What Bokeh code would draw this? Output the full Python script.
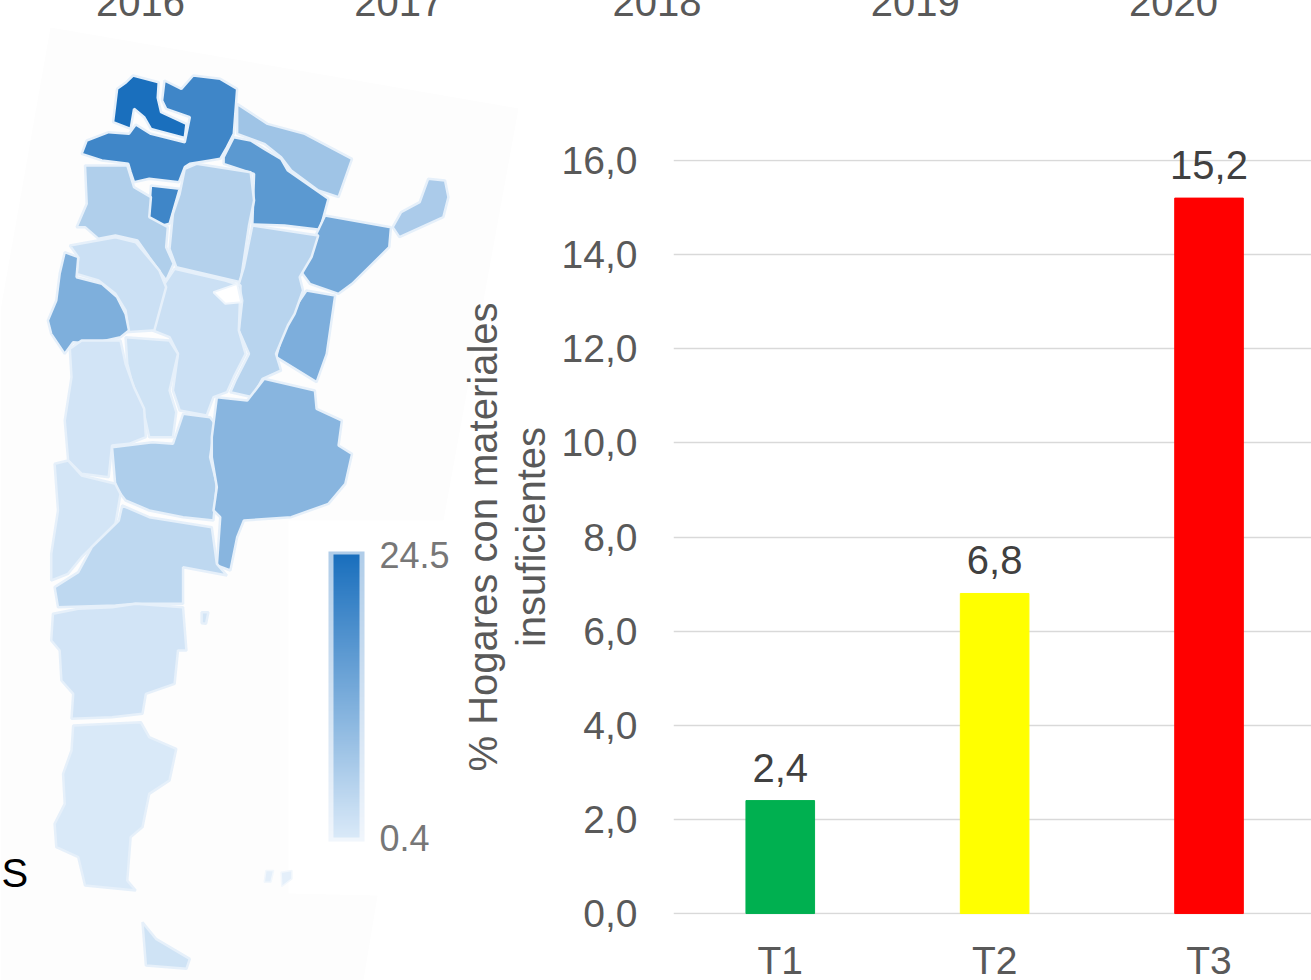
from bokeh.plotting import figure
from bokeh.models import (ColumnDataSource, Range1d, FactorRange, FixedTicker, LinearColorMapper, ColorBar)
from bokeh.core.properties import value
from bokeh.embed import file_html
from bokeh.resources import INLINE

FONT = "Liberation Sans"
GRAY = "#595959"

# ---------- data ----------
years = ["2016", "2017", "2018", "2019", "2020"]
periods = ["T1", "T2", "T3"]
period_pos = [1, 2, 3]
pct_values = [2.4, 6.8, 15.2]
pct_labels = ["2,4", "6,8", "15,2"]
bar_colors = ["#00b050", "#ffff00", "#ff0000"]
y_ticks = [0, 2, 4, 6, 8, 10, 12, 14, 16]
y_tick_labels = ["0,0", "2,0", "4,0", "6,0", "8,0", "10,0", "12,0", "14,0", "16,0"]
map_low, map_high = 0.4, 24.5

# outlines in three horizontal bands
SX = 2.958
A, B, C = 0, 320, 650
def z(y0, pts):
    return [(x / SX, y0 + y / 3) for x, y in pts]

provinces = {
 "Jujuy": (24.5, z(A, [(345,265),(372,245),(392,225),(468,245),(465,292),(475,335),(550,370),(545,412),(445,385),(425,350),(395,325),(385,385),(333,365)])),
 "Salta": (19.8, z(A, [(485,240),(535,265),(570,225),(650,235),(700,265),(690,400),(670,440),(650,475),(620,480),(560,490),(545,500),(528,545),(440,535),(395,545),(385,515),(378,490),(300,480),(240,460),(255,420),(320,395),(380,400),(400,372),(445,400),(545,425),(560,350),(490,325),(478,300)])),
 "Tucuman": (19.8, z(A, [(445,555),(530,565),(500,670),(480,675),(438,655)])),
 "Formosa": (7.7, z(A, [(700,310),(790,370),(900,400),(1040,475),(1000,590),(940,570),(860,510),(830,470),(780,430),(700,400)])),
 "Chaco": (16.3, z(A, [(660,470),(690,410),(740,420),(780,445),(830,475),(850,510),(900,545),(970,595),(945,688),(840,675),(745,672),(750,520),(660,490)])),
 "Santiago": (5.2, z(A, [(545,505),(580,490),(740,515),(750,600),(735,675),(710,845),(520,800),(500,745),(510,640),(530,580)])),
 "Catamarca": (5.6, z(A, [(250,495),(375,495),(395,560),(445,590),(440,650),(495,680),(490,740),(512,790),(490,840),(440,770),(405,720),(340,705),(290,715),(250,680),(225,680),(255,610)])),
 "Misiones": (6.3, z(A, [(1265,535),(1315,540),(1325,590),(1310,650),(1180,710),(1160,680),(1185,635),(1240,605)])),
 "Corrientes": (13.1, z(A, [(960,645),(1155,680),(1150,740),(1040,850),(1000,880),(915,850),(890,815),(905,780),(925,720)])),
 "Entre Rios": (12.0, z(A, [(905,870),(990,885),(975,990)]) + z(B, [(965,100),(935,185),(815,110),(845,0)])),
 "Santa Fe": (4.6, z(A, [(745,675),(940,705),(920,770),(885,830),(895,870),(870,940),(850,975)]) + z(B, [(815,100),(830,150),(775,175),(745,230),(680,215),(695,180),(735,100),(705,30)]) + z(A, [(715,900),(705,850),(720,800)])),
 "Cordoba": (2.2, z(A, [(515,805),(665,840),(710,855),(705,990)]) + z(B, [(725,100),(690,170),(670,215),(630,230),(610,285),(530,270),(510,210),(525,100),(500,50),(450,30),(460,0)]) + z(A, [(465,880)])),
 "La Rioja": (2.2, z(A, [(205,735),(340,710),(400,725),(470,810),(490,860),(455,990)]) + z(B, [(450,30),(370,35)]) + z(A, [(375,965),(370,930),(340,880),(290,840),(225,820),(230,770)])),
 "San Juan": (11.9, z(A, [(190,755),(230,770),(225,830),(300,850),(345,890),(370,940),(380,990)]) + z(B, [(355,50),(270,70),(215,65),(190,100),(150,40),(140,0)]) + z(A, [(165,900),(175,820)])),
 "San Luis": (1.7, z(B, [(370,50),(500,60),(525,100),(500,210),(520,275),(510,350),(440,350),(420,260),(390,190),(375,130)])),
 "Mendoza": (1.4, z(B, [(205,85),(240,60),(355,60),(370,130),(395,200),(425,265),(430,350),(380,370),(330,375),(320,470),(240,460),(200,420),(190,300),(210,170)])),
 "La Pampa": (5.8, z(B, [(540,280),(620,290),(635,310),(620,410),(640,490),(630,600),(540,590),(440,570),(370,540),(340,500),(330,380),(450,365),(510,370)])),
 "Buenos Aires": (10.6, z(B, [(640,230),(730,240),(780,175),(930,210),(935,265),(1010,300),(1000,375),(1040,400),(1020,490),(970,550),(860,590),(720,600),(700,650),(680,750),(640,735),(650,590),(630,570),(640,500),(625,410),(625,350)])),
 "Neuquen": (1.2, z(B, [(160,430),(200,420),(240,465),(340,490),(355,520),(340,610),(285,665),(240,710),(200,760),(150,780),(150,700),(170,570)])),
 "Rio Negro": (3.8, z(B, [(160,800),(230,755),(270,680),(350,600),(360,555),(440,590),(625,620),(640,730),(670,765),(540,740),(540,850),(400,850),(340,855),(170,860)])),
 "Chubut": (1.4, z(B, [(155,880),(230,865),(330,860),(400,850),(540,860),(550,990)]) + z(C, [(525,0),(515,100),(430,130),(420,190),(330,200),(210,205),(215,130),(180,90),(175,0)]) + z(B, [(150,960)])),
 "Valdes": (1.2, z(B, [(595,875),(615,875),(608,910),(595,908)])),
 "Santa Cruz": (0.4, z(C, [(215,225),(415,215),(440,260),(520,295),(500,390),(440,430),(420,530),(385,560),(375,690),(400,720),(250,705),(230,620),(165,590),(160,520),(190,460),(185,370),(210,300)])),
 "Tierra del Fuego": (1.7, z(C, [(420,815),(460,865),(560,925),(550,955),(430,945)])),
}
islands = [z(C, [(785,660),(808,660),(800,695),(780,695)]), z(C, [(830,665),(862,660),(862,685),(832,708)])]
lake = z(A, [(630,875),(700,850),(712,905),(665,910)])
panel = [(50,27),(518,108),(443,520),(288,520),(288,893),(377,895),(363,980),(0,980),(0,310)]

# ---------- palette ----------
def ramp(c0, c1, n=256):
    a = [int(c0[i:i+2], 16) for i in (1, 3, 5)]
    b = [int(c1[i:i+2], 16) for i in (1, 3, 5)]
    return ["#%02x%02x%02x" % tuple(round(a[k] + (b[k]-a[k]) * t / (n-1)) for k in range(3)) for t in range(n)]

palette = ramp("#d9e9f8", "#1a6fbd")
halo_palette = ramp("#f1f6fc", "#b0cde9")
mapper = LinearColorMapper(palette=palette, low=map_low, high=map_high)
halo_mapper = LinearColorMapper(palette=halo_palette, low=map_low, high=map_high)

def place(left, top):
    return {"position": "absolute", "left": f"{left}px", "top": f"{top}px"}

# ---------- map ----------
m = figure(width=530, height=980, x_range=Range1d(0, 530), y_range=Range1d(980, 0),
           output_backend="svg", toolbar_location=None, min_border=0, outline_line_color=None,
           x_axis_type=None, y_axis_type=None, styles=place(0, 0))
m.grid.visible = False
m.patch([p[0] for p in panel], [p[1] for p in panel], fill_color="#fdfdfd", line_color=None)
names = list(provinces)
src = ColumnDataSource(dict(
    name=names,
    value=[provinces[n][0] for n in names],
    xs=[[p[0] for p in provinces[n][1]] for n in names],
    ys=[[p[1] for p in provinces[n][1]] for n in names],
))
m.patches("xs", "ys", source=src, fill_color={"field": "value", "transform": mapper},
          line_color="#e6f0fa", line_width=2.5)
m.patches([[p[0] for p in r] for r in islands], [[p[1] for p in r] for r in islands],
          fill_color="#e4effa", line_color="#f2f7fc", line_width=1.5)
m.patch([p[0] for p in lake], [p[1] for p in lake], fill_color="#ffffff", line_color="#eef5fc", line_width=2)
m.text(x=[1], y=[872], text=["S"], text_font=value(FONT), text_font_size="40px", text_color="#000000",
       text_baseline="alphabetic")

halo = ColorBar(color_mapper=halo_mapper, ticker=FixedTicker(ticks=[]), width=36, height=290,
                location=(328, 139), padding=0, margin=0, background_fill_alpha=0, border_line_color=None,
                major_tick_line_color=None, bar_line_color=None, major_label_text_font_size="0px")
cb = ColorBar(color_mapper=mapper, ticker=FixedTicker(ticks=[map_low, map_high]), width=26, height=283,
              location=(333, 143), padding=0, margin=0, background_fill_alpha=0, border_line_color=None,
              major_tick_line_color=None, bar_line_color=None, label_standoff=20,
              major_label_overrides={map_low: "0.4", map_high: "24.5"},
              major_label_text_font=FONT, major_label_text_font_size="36px", major_label_text_color="#777777")
m.add_layout(halo, "center")
m.add_layout(cb, "center")

# ---------- bars ----------
X_RANGE = (0.502, 3.478)
b = figure(width=871, height=985, x_range=Range1d(*X_RANGE), y_range=Range1d(-0.02, 16.02),
           output_backend="svg", toolbar_location=None, min_border_left=233, min_border_right=0,
           min_border_top=159, min_border_bottom=71, outline_line_color=None,
           background_fill_alpha=0, border_fill_alpha=0, styles=place(440, 0))
b.xgrid.visible = False
b.ygrid.grid_line_color = "#d9d9d9"
b.ygrid.grid_line_width = 1.5
b.ygrid.ticker = FixedTicker(ticks=y_ticks)
bar_src = ColumnDataSource(dict(x=period_pos, top=pct_values, label=pct_labels, color=bar_colors))
b.vbar(x="x", top="top", width=0.32, bottom=0, color="color", source=bar_src)

# value labels sit in a clear layer with the same scale and a taller frame, so "15,2" is not clipped
UNIT = (914 - 159) / (16.02 + 0.02)
labels = figure(width=638, height=985, x_range=Range1d(*X_RANGE), y_range=Range1d(-0.02, 16.02 + 59 / UNIT),
                output_backend="svg", toolbar_location=None, min_border_left=0, min_border_right=0,
                min_border_top=100, min_border_bottom=71, outline_line_color=None,
                x_axis_type=None, y_axis_type=None,
                background_fill_alpha=0, border_fill_alpha=0, styles=place(673, 0))
labels.grid.visible = False
labels.text(x="x", y="top", text="label", source=bar_src, text_font=value(FONT), text_font_size="40px",
            text_color="#404040", text_align="center", text_baseline="alphabetic", y_offset=-33)

xa = b.xaxis[0]
xa.ticker = FixedTicker(ticks=period_pos)
xa.major_label_overrides = dict(zip(period_pos, periods))
xa.axis_line_color = None
xa.major_tick_line_color = None
xa.minor_tick_line_color = None
xa.major_label_text_font = FONT
xa.major_label_text_font_size = "39px"
xa.major_label_text_color = GRAY
xa.major_label_standoff = 18

ya = b.yaxis[0]
ya.ticker = FixedTicker(ticks=y_ticks)
ya.major_label_overrides = dict(zip(y_ticks, y_tick_labels))
ya.axis_line_color = None
ya.major_tick_line_color = None
ya.minor_tick_line_color = None
ya.major_label_text_font = FONT
ya.major_label_text_font_size = "39px"
ya.major_label_text_color = GRAY
ya.major_label_standoff = 30
ya.axis_label = "% Hogares con materiales\ninsuficientes"
ya.axis_label_text_font = FONT
ya.axis_label_text_font_size = "40px"
ya.axis_label_text_font_style = "normal"
ya.axis_label_text_color = GRAY
ya.axis_label_text_line_height = 1.09
ya.axis_label_standoff = 6

# ---------- year header ----------
header = figure(width=1311, height=60, x_range=FactorRange(factors=years), y_range=(0, 1),
                output_backend="svg", toolbar_location=None, min_border_left=11, min_border_right=9,
                min_border_top=0, min_border_bottom=59, outline_line_color=None, y_axis_type=None,
                background_fill_alpha=0, border_fill_alpha=0, styles=place(0, -40))
header.grid.visible = False
ax = header.xaxis[0]
ax.axis_line_color = None
ax.major_tick_line_color = None
ax.minor_tick_line_color = None
ax.major_label_text_font = FONT
ax.major_label_text_font_size = "40px"
ax.major_label_text_color = GRAY
ax.major_label_standoff = 20

open("out.html", "w").write(file_html([m, b, labels, header], INLINE))
